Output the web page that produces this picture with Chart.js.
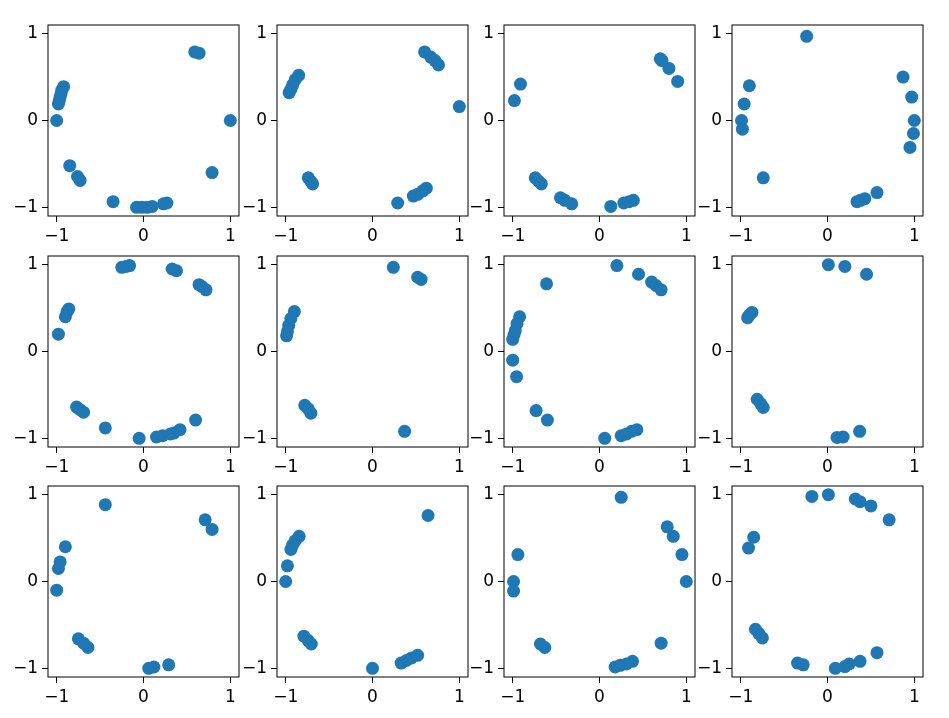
<!DOCTYPE html>
<html lang="en">
<head>
    <meta charset="UTF-8">
    <title>Scatter grid</title>
    <script src="https://cdn.jsdelivr.net/npm/chart.js@4"></script>
    <style>
        body {
            margin: 0;
            background: #fff;
        }
        #grid {
            position: relative;
            width: 949px;
            height: 718px;
        }
        #grid canvas {
            position: absolute;
        }
    </style>
</head>
<body>
    <div id="grid"></div>

    <script>
        // points (row by row)
        const p1x = [0.59, 0.64, 1.0, 0.79, -0.92, -0.94, -0.95, -0.96, -0.97, -0.98, -1.0, -0.85, -0.76, -0.73, -0.35, -0.08, -0.02, 0.04, 0.10, 0.23, 0.27];
        const p1y = [0.79, 0.775, 0.0, -0.60, 0.39, 0.35, 0.31, 0.27, 0.23, 0.19, 0.0, -0.52, -0.645, -0.69, -0.935, -1.0, -1.0, -1.0, -0.99, -0.96, -0.95];

        const p2x = [0.60, 0.67, 0.72, 0.76, 1.0, -0.96, -0.94, -0.92, -0.89, -0.85, -0.74, -0.71, -0.69, 0.29, 0.47, 0.52, 0.58, 0.62];
        const p2y = [0.79, 0.73, 0.69, 0.64, 0.16, 0.32, 0.36, 0.41, 0.47, 0.52, -0.66, -0.70, -0.73, -0.95, -0.87, -0.85, -0.81, -0.78];

        const p3x = [0.70, 0.72, 0.80, 0.90, -0.91, -0.98, -0.74, -0.70, -0.67, -0.45, -0.40, -0.32, 0.13, 0.28, 0.34, 0.39];
        const p3y = [0.71, 0.69, 0.60, 0.45, 0.42, 0.23, -0.66, -0.70, -0.73, -0.89, -0.92, -0.96, -0.99, -0.95, -0.935, -0.92];

        const p4x = [-0.24, -0.90, -0.96, -0.99, -0.98, -0.74, 0.87, 0.97, 1.0, 0.99, 0.95, 0.57, 0.43, 0.38, 0.34];
        const p4y = [0.97, 0.40, 0.19, 0.0, -0.10, -0.66, 0.50, 0.27, 0.0, -0.15, -0.31, -0.83, -0.90, -0.92, -0.935];

        const p5x = [-0.25, -0.20, -0.16, 0.33, 0.38, 0.64, 0.67, 0.72, -0.86, -0.88, -0.90, -0.98, -0.77, -0.73, -0.69, -0.44, -0.05, 0.15, 0.22, 0.31, 0.35, 0.42, 0.60];
        const p5y = [0.97, 0.98, 0.99, 0.95, 0.93, 0.77, 0.75, 0.71, 0.49, 0.46, 0.40, 0.20, -0.64, -0.67, -0.70, -0.88, -1.0, -0.985, -0.97, -0.95, -0.94, -0.90, -0.79];

        const p6x = [0.24, 0.52, 0.56, -0.90, -0.94, -0.965, -0.98, -0.99, -0.78, -0.74, -0.71, 0.37];
        const p6y = [0.97, 0.855, 0.83, 0.46, 0.38, 0.30, 0.23, 0.18, -0.62, -0.66, -0.71, -0.92];

        const p7x = [0.20, 0.45, 0.60, 0.65, 0.71, -0.61, -0.92, -0.95, -0.97, -0.985, -1.0, -1.0, -0.955, -0.73, -0.60, 0.06, 0.25, 0.31, 0.37, 0.43];
        const p7y = [0.99, 0.89, 0.80, 0.76, 0.71, 0.78, 0.40, 0.32, 0.24, 0.19, 0.14, -0.10, -0.29, -0.68, -0.79, -1.0, -0.97, -0.95, -0.92, -0.90];

        const p8x = [0.01, 0.20, 0.45, -0.87, -0.90, -0.92, -0.81, -0.77, -0.74, 0.11, 0.18, 0.37];
        const p8y = [1.0, 0.98, 0.89, 0.45, 0.42, 0.39, -0.55, -0.60, -0.645, -0.99, -0.985, -0.92];

        const p9x = [-0.44, 0.71, 0.79, -0.90, -0.96, -0.98, -1.0, -0.75, -0.69, -0.64, 0.06, 0.12, 0.29];
        const p9y = [0.885, 0.71, 0.60, 0.40, 0.225, 0.15, -0.10, -0.66, -0.71, -0.76, -1.0, -0.985, -0.96];

        const p10x = [0.64, -0.845, -0.89, -0.92, -0.94, -0.98, -1.0, -0.79, -0.74, -0.705, 0.0, 0.33, 0.39, 0.45, 0.52];
        const p10y = [0.76, 0.52, 0.47, 0.42, 0.37, 0.18, 0.0, -0.63, -0.68, -0.72, -1.0, -0.94, -0.91, -0.88, -0.85];

        const p11x = [0.25, 0.78, 0.85, 0.95, 1.0, -0.94, -0.99, -0.99, -0.68, -0.63, 0.71, 0.18, 0.24, 0.31, 0.38];
        const p11y = [0.97, 0.63, 0.52, 0.31, 0.0, 0.31, 0.0, -0.11, -0.72, -0.76, -0.71, -0.985, -0.965, -0.95, -0.92];

        const p12x = [-0.18, 0.01, 0.32, 0.375, 0.50, 0.71, -0.85, -0.91, -0.83, -0.79, -0.75, -0.345, -0.28, 0.09, 0.20, 0.25, 0.375, 0.57];
        const p12y = [0.98, 1.0, 0.95, 0.92, 0.87, 0.71, 0.51, 0.385, -0.55, -0.60, -0.65, -0.94, -0.96, -1.0, -0.98, -0.95, -0.92, -0.82];

        const tickValues = [-1, 0, 1];
        const axisMin = -1.1;
        const axisMax = 1.1;

        const panels = [
            [p1x, p1y], [p2x, p2y], [p3x, p3y], [p4x, p4y],
            [p5x, p5y], [p6x, p6y], [p7x, p7y], [p8x, p8y],
            [p9x, p9y], [p10x, p10y], [p11x, p11y], [p12x, p12y]
        ];

        // axes boxes
        const colLeft = [48, 276.7, 504.3, 732.3];
        const rowTop = [25, 255.7, 485.7];
        const boxSize = 191;
        const yAxisW = 48, xAxisH = 36, padTop = 20, padRight = 12;

        Chart.defaults.font.family = '"DejaVu Sans", sans-serif';
        Chart.defaults.font.size = 17;
        Chart.defaults.color = '#000';

        const frame = {
            id: 'frame',
            afterDraw(chart) {
                const a = chart.chartArea;
                const c = chart.ctx;
                c.save();
                c.strokeStyle = '#000';
                c.lineWidth = 1;
                c.strokeRect(a.left, a.top, a.right - a.left, a.bottom - a.top);
                c.restore();
            }
        };

        function fmt(v) {
            return v < 0 ? '\u2212' + Math.abs(v) : String(v);
        }

        function axis(horizontal) {
            return {
                type: 'linear',
                min: axisMin,
                max: axisMax,
                afterBuildTicks: s => { s.ticks = tickValues.map(v => ({ value: v })); },
                afterFit: s => {
                    if (horizontal) s.height = xAxisH; else s.width = yAxisW;
                },
                grid: {
                    drawOnChartArea: false,
                    drawTicks: true,
                    tickLength: 6,
                    color: '#000',
                    lineWidth: 1
                },
                border: { display: false },
                ticks: {
                    padding: 4,
                    maxRotation: 0,
                    autoSkip: false,
                    callback: v => fmt(v)
                }
            };
        }

        const grid = document.getElementById('grid');
        panels.forEach(([xs, ys], i) => {
            const r = Math.floor(i / 4), col = i % 4;
            const canvas = document.createElement('canvas');
            const w = yAxisW + boxSize + padRight;
            const h = padTop + boxSize + xAxisH;
            canvas.width = w;
            canvas.height = h;
            canvas.style.width = w + 'px';
            canvas.style.height = h + 'px';
            canvas.style.left = (colLeft[col] - yAxisW) + 'px';
            canvas.style.top = (rowTop[r] - padTop) + 'px';
            grid.appendChild(canvas);

            new Chart(canvas.getContext('2d'), {
                type: 'scatter',
                data: {
                    datasets: [{
                        data: xs.map((x, k) => ({ x: x, y: ys[k] })),
                        backgroundColor: '#1f77b4',
                        borderColor: '#1f77b4',
                        borderWidth: 0,
                        pointRadius: 6.5,
                        pointHoverRadius: 6.5
                    }]
                },
                options: {
                    responsive: false,
                    animation: false,
                    layout: { padding: { left: 0, top: padTop, right: padRight, bottom: 0 } },
                    plugins: {
                        legend: { display: false },
                        tooltip: { enabled: false }
                    },
                    scales: {
                        x: axis(true),
                        y: axis(false)
                    }
                },
                plugins: [frame]
            });
        });
    </script>
</body>
</html>
